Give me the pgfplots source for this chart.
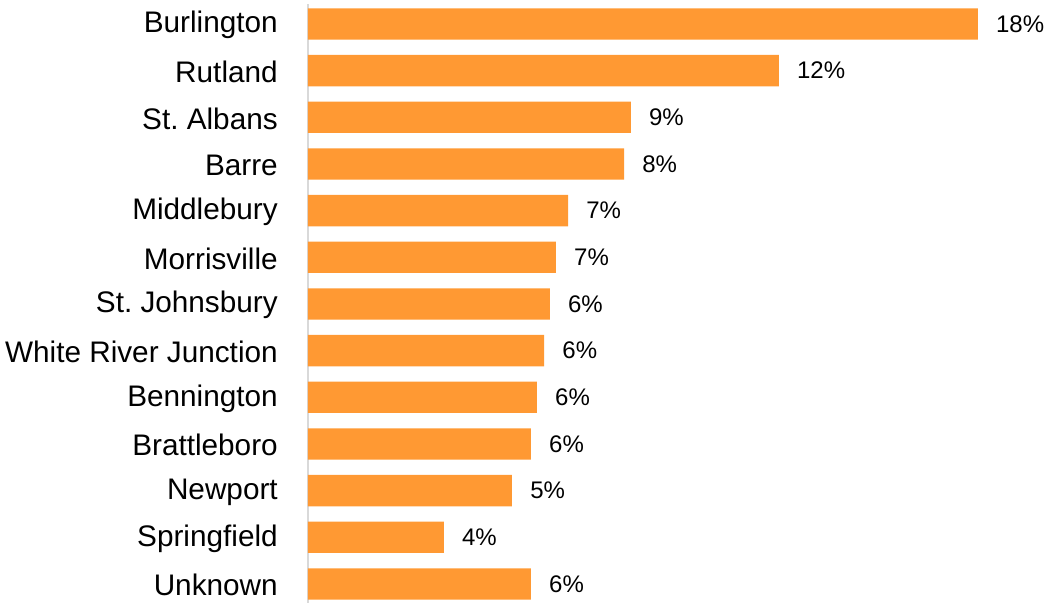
\documentclass[border=0pt]{standalone}
\usepackage{pgfplots}
\pgfplotsset{compat=1.18}
\usepackage{pgfplotstable}
\usepackage{fontspec}
\setmainfont{Liberation Sans}
\frenchspacing
\definecolor{barorange}{HTML}{FF9933}
\definecolor{axgray}{HTML}{D9D9D9}
\pgfplotstableread{
y x lab
12 17.70 18\%
11 12.44 12\%
10 8.53 9\%
9 8.35 8\%
8 6.87 7\%
7 6.55 7\%
6 6.39 6\%
5 6.24 6\%
4 6.05 6\%
3 5.89 6\%
2 5.39 5\%
1 3.59 4\%
0 5.89 6\%
}\datatab
\begin{document}
\begin{tikzpicture}[x=1pt,y=1pt]
\useasboundingbox (-231pt,-1pt) rectangle (555pt,452pt);
\begin{axis}[
  at={(0pt,0pt)}, anchor=south west,
  scale only axis,
  width=539.3pt, height=449.1pt,
  xbar, bar width=23.5pt,
  xmin=0, xmax=19,
  ymin=-0.4, ymax=12.43,
  axis x line=none,
  axis y line*=left,
  y axis line style={draw=axgray, line width=1.5pt},
  ytick={0,...,12},
  yticklabels={Unknown,Springfield,Newport,Brattleboro,Bennington,White River Junction,St. Johnsbury,Morrisville,Middlebury,Barre,St. Albans,Rutland,Burlington},
  major tick length=0pt,
  yticklabel style={font=\fontsize{22.3}{24}\selectfont, anchor=east, inner sep=0pt, xshift=-22.5pt, yshift=-1pt, text=black},
  nodes near coords={\pgfplotspointmeta},
  point meta=explicit symbolic,
  nodes near coords style={font=\fontsize{18}{20}\selectfont, anchor=west, inner sep=0pt, xshift=13.5pt, text=black},
  clip=false,
]
\addplot[fill=barorange, draw=none] table[x=x, y=y, meta=lab] {\datatab};
\end{axis}
\end{tikzpicture}
\end{document}
